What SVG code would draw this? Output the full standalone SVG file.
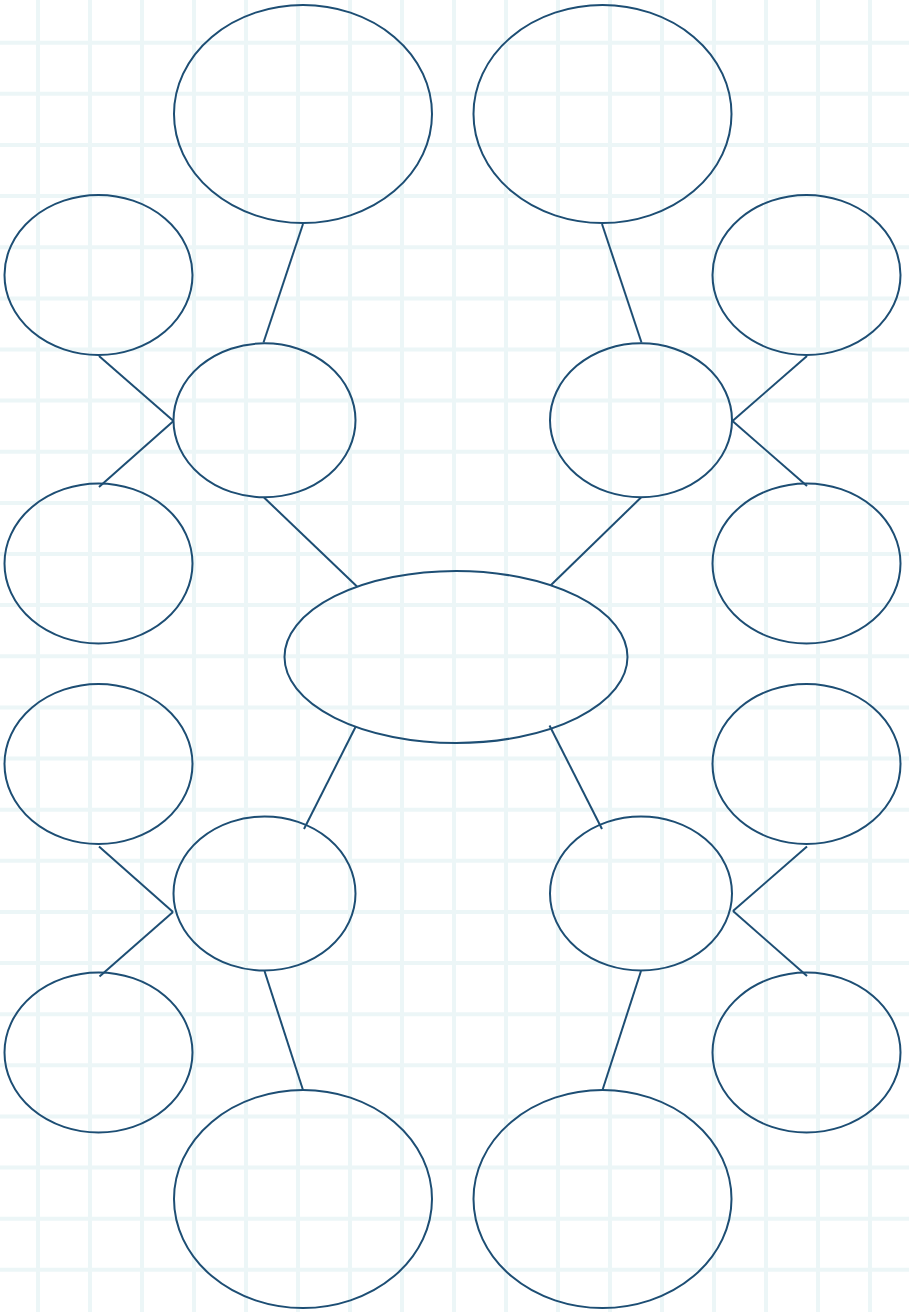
<svg xmlns="http://www.w3.org/2000/svg" width="909" height="1312" viewBox="0 0 909 1312">
<style>
.grid line{stroke:#ecf6f7;stroke-width:4}
.node ellipse{fill:none;stroke:#1d4e74;stroke-width:2}
#connectors line{stroke:#1d4e74;stroke-width:2;stroke-linecap:butt}
</style>
<rect x="0" y="0" width="909" height="1312" fill="#ffffff"/>
<g class="grid" id="grid">
<line x1="38" y1="0" x2="38" y2="1312"/>
<line x1="90" y1="0" x2="90" y2="1312"/>
<line x1="142" y1="0" x2="142" y2="1312"/>
<line x1="194" y1="0" x2="194" y2="1312"/>
<line x1="246" y1="0" x2="246" y2="1312"/>
<line x1="298" y1="0" x2="298" y2="1312"/>
<line x1="350" y1="0" x2="350" y2="1312"/>
<line x1="402" y1="0" x2="402" y2="1312"/>
<line x1="454" y1="0" x2="454" y2="1312"/>
<line x1="506" y1="0" x2="506" y2="1312"/>
<line x1="558" y1="0" x2="558" y2="1312"/>
<line x1="610" y1="0" x2="610" y2="1312"/>
<line x1="662" y1="0" x2="662" y2="1312"/>
<line x1="714" y1="0" x2="714" y2="1312"/>
<line x1="766" y1="0" x2="766" y2="1312"/>
<line x1="818" y1="0" x2="818" y2="1312"/>
<line x1="870" y1="0" x2="870" y2="1312"/>
<line x1="0" y1="42.7" x2="909" y2="42.7"/>
<line x1="0" y1="93.8" x2="909" y2="93.8"/>
<line x1="0" y1="145" x2="909" y2="145"/>
<line x1="0" y1="196.1" x2="909" y2="196.1"/>
<line x1="0" y1="247.2" x2="909" y2="247.2"/>
<line x1="0" y1="298.4" x2="909" y2="298.4"/>
<line x1="0" y1="349.5" x2="909" y2="349.5"/>
<line x1="0" y1="400.6" x2="909" y2="400.6"/>
<line x1="0" y1="451.8" x2="909" y2="451.8"/>
<line x1="0" y1="502.9" x2="909" y2="502.9"/>
<line x1="0" y1="554" x2="909" y2="554"/>
<line x1="0" y1="605.1" x2="909" y2="605.1"/>
<line x1="0" y1="656.3" x2="909" y2="656.3"/>
<line x1="0" y1="707.4" x2="909" y2="707.4"/>
<line x1="0" y1="758.5" x2="909" y2="758.5"/>
<line x1="0" y1="809.7" x2="909" y2="809.7"/>
<line x1="0" y1="860.8" x2="909" y2="860.8"/>
<line x1="0" y1="911.9" x2="909" y2="911.9"/>
<line x1="0" y1="963.1" x2="909" y2="963.1"/>
<line x1="0" y1="1014.2" x2="909" y2="1014.2"/>
<line x1="0" y1="1065.3" x2="909" y2="1065.3"/>
<line x1="0" y1="1116.4" x2="909" y2="1116.4"/>
<line x1="0" y1="1167.6" x2="909" y2="1167.6"/>
<line x1="0" y1="1218.7" x2="909" y2="1218.7"/>
<line x1="0" y1="1269.8" x2="909" y2="1269.8"/>
</g>
<g id="connectors">
<line x1="303" y1="224" x2="263.5" y2="342.5"/>
<line x1="602" y1="224" x2="641.5" y2="342.5"/>
<line x1="99" y1="356" x2="173.5" y2="421"/>
<line x1="173.5" y1="421" x2="99" y2="487"/>
<line x1="807" y1="356" x2="732.5" y2="421"/>
<line x1="732.5" y1="421" x2="807" y2="486"/>
<line x1="264" y1="497.5" x2="357" y2="586.5"/>
<line x1="641" y1="497.5" x2="550.5" y2="585.5"/>
<line x1="355.5" y1="727" x2="304" y2="829"/>
<line x1="549.5" y1="725.5" x2="602" y2="829"/>
<line x1="99" y1="846.5" x2="173" y2="912"/>
<line x1="173" y1="912" x2="99.5" y2="976.5"/>
<line x1="807" y1="846.5" x2="733" y2="911"/>
<line x1="733" y1="911" x2="807" y2="976"/>
<line x1="264.5" y1="971" x2="303" y2="1090"/>
<line x1="641" y1="971" x2="602.5" y2="1090"/>
</g>
<g class="node" id="n-top-left"><ellipse cx="303" cy="114" rx="129" ry="109"/></g>
<g class="node" id="n-top-right"><ellipse cx="602.5" cy="114" rx="129" ry="109"/></g>
<g class="node" id="n-left-1"><ellipse cx="98.5" cy="275" rx="94" ry="80"/></g>
<g class="node" id="n-left-2"><ellipse cx="98.5" cy="563.5" rx="94" ry="80"/></g>
<g class="node" id="n-right-1"><ellipse cx="806.5" cy="275" rx="94" ry="80"/></g>
<g class="node" id="n-right-2"><ellipse cx="806.5" cy="563.5" rx="94" ry="80"/></g>
<g class="node" id="n-mid-upper-left"><ellipse cx="264.5" cy="420.3" rx="91" ry="77"/></g>
<g class="node" id="n-mid-upper-right"><ellipse cx="641" cy="420.3" rx="91" ry="77"/></g>
<g class="node" id="n-center"><ellipse cx="456" cy="657" rx="171.5" ry="86"/></g>
<g class="node" id="n-mid-lower-left"><ellipse cx="264.5" cy="893.5" rx="91" ry="77"/></g>
<g class="node" id="n-mid-lower-right"><ellipse cx="641" cy="893.5" rx="91" ry="77"/></g>
<g class="node" id="n-left-3"><ellipse cx="98.5" cy="764" rx="94" ry="80"/></g>
<g class="node" id="n-left-4"><ellipse cx="98.5" cy="1052.5" rx="94" ry="80"/></g>
<g class="node" id="n-right-3"><ellipse cx="806.5" cy="764" rx="94" ry="80"/></g>
<g class="node" id="n-right-4"><ellipse cx="806.5" cy="1052.5" rx="94" ry="80"/></g>
<g class="node" id="n-bottom-left"><ellipse cx="303" cy="1199" rx="129" ry="109"/></g>
<g class="node" id="n-bottom-right"><ellipse cx="602.5" cy="1199" rx="129" ry="109"/></g>
</svg>
